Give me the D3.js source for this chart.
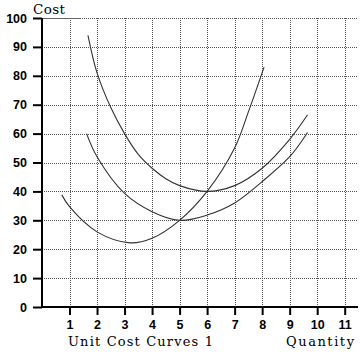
<!DOCTYPE html>
<html>
<head>
<meta charset="utf-8">
<script src="https://cdn.jsdelivr.net/npm/d3@7"></script>
<style>
  body { margin: 0; background: #fff; }
  svg { display: block; }
</style>
</head>
<body>
<div id="chart"></div>
<script>
// values
const xTicks = [1, 2, 3, 4, 5, 6, 7, 8, 9, 10, 11];
const yTicks = [0, 10, 20, 30, 40, 50, 60, 70, 80, 90, 100];

const atcQ = [1.67, 2, 2.5, 3, 3.5, 4, 4.5, 5, 6, 7, 8, 9, 9.65];
const atcCost = [94, 81, 69, 60, 52.8, 48, 44.4, 42, 40, 42, 48, 58, 66.5];

const avcQ = [1.62, 2, 3, 4, 5, 6, 7, 8, 9, 9.65];
const avcCost = [60, 52, 39.3, 33, 30, 31.8, 36, 43.4, 52, 60.4];

const mcQ = [0.72, 1, 2, 3.2, 4, 5, 6, 7, 7.5, 8.07];
const mcCost = [38.8, 34.7, 26, 22.2, 23.8, 30, 40, 55, 67.5, 83];

const width = 360, height = 352;

const svg = d3.select("#chart").append("svg")
  .attr("width", width)
  .attr("height", height);

const x = d3.scaleLinear().domain([0, 11]).range([42, 344.7]);
const y = d3.scaleLinear().domain([0, 100]).range([307, 18]);

// grid
const grid = svg.append("g");
grid.selectAll("line.v").data(xTicks).enter().append("line")
  .attr("x1", d => Math.round(x(d)) + 0.5).attr("x2", d => Math.round(x(d)) + 0.5)
  .attr("y1", y(100)).attr("y2", y(0))
  .attr("stroke", "#555").attr("stroke-dasharray", "1,1");
grid.selectAll("line.h").data(yTicks.filter(d => d > 0)).enter().append("line")
  .attr("x1", x(0)).attr("x2", 358)
  .attr("y1", d => Math.round(y(d)) + 0.5).attr("y2", d => Math.round(y(d)) + 0.5)
  .attr("stroke", "#555").attr("stroke-dasharray", "1,1");
// short solid piece of the top line next to the axis
grid.append("line")
  .attr("x1", x(0)).attr("x2", 80)
  .attr("y1", Math.round(y(100)) + 0.5).attr("y2", Math.round(y(100)) + 0.5)
  .attr("stroke", "#666");

// axes
const yAxis = svg.append("g").attr("transform", `translate(${x(0)},0)`)
  .call(d3.axisLeft(y).tickValues(yTicks).tickSize(9).tickPadding(6));
const xAxis = svg.append("g").attr("transform", `translate(0,${y(0)})`)
  .call(d3.axisBottom(x).tickValues(xTicks).tickSize(8).tickPadding(5));

[yAxis, xAxis].forEach(a => {
  a.selectAll("line").attr("stroke", "#000").attr("stroke-width", 2);
  a.select(".domain").remove();
  a.selectAll("text")
    .attr("fill", "#000")
    .style("font-family", "'Liberation Sans', Arial, sans-serif")
    .style("font-weight", "bold")
    .style("font-size", "12.5px");
});

svg.append("line")
  .attr("x1", x(0)).attr("x2", x(0))
  .attr("y1", y(100)).attr("y2", y(0) + 1)
  .attr("stroke", "#000").attr("stroke-width", 2);
svg.append("line")
  .attr("x1", x(0) - 1).attr("x2", 358)
  .attr("y1", y(0)).attr("y2", y(0))
  .attr("stroke", "#000").attr("stroke-width", 2);

// curves
const line = d3.line()
  .x(d => x(d[0]))
  .y(d => y(d[1]))
  .curve(d3.curveCatmullRom.alpha(0.5));

const curves = [
  d3.zip(atcQ, atcCost),
  d3.zip(avcQ, avcCost),
  d3.zip(mcQ, mcCost)
];

svg.append("g").selectAll("path").data(curves).enter().append("path")
  .attr("d", line)
  .attr("fill", "none")
  .attr("stroke", "#333")
  .attr("stroke-width", 1.1);

// labels
const serif = "'DejaVu Serif', 'Liberation Serif', serif";
svg.append("text")
  .attr("x", 33).attr("y", 13.5)
  .attr("textLength", 32)
  .style("font-family", serif).style("font-size", "13.5px")
  .text("Cost");
svg.append("text")
  .attr("x", 68).attr("y", 346)
  .attr("textLength", 145)
  .style("font-family", serif).style("font-size", "13px")
  .text("Unit Cost Curves 1");
svg.append("text")
  .attr("x", 286).attr("y", 346)
  .attr("textLength", 68)
  .style("font-family", serif).style("font-size", "13px")
  .text("Quantity");
</script>
</body>
</html>
